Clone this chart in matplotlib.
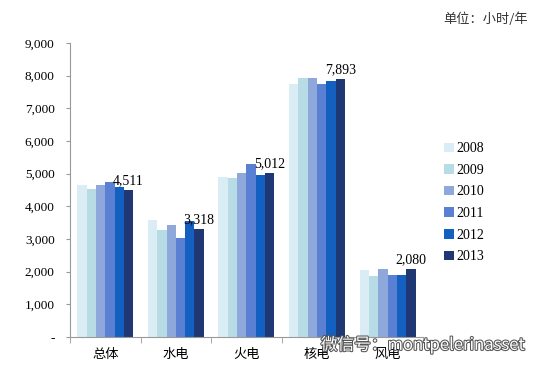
import numpy as np
import matplotlib
matplotlib.use('Agg')
import matplotlib.pyplot as plt
import matplotlib.patheffects as pe
from matplotlib.ticker import FuncFormatter

categories = ['总体', '水电', '火电', '核电', '风电']
years = ['2008', '2009', '2010', '2011', '2012', '2013']
hours = {
    '2008': [4648, 3589, 4885, 7731, 2046],
    '2009': [4546, 3264, 4865, 7914, 1861],
    '2010': [4650, 3429, 5031, 7924, 2090],
    '2011': [4730, 3019, 5294, 7759, 1903],
    '2012': [4579, 3560, 4965, 7838, 1903],
    '2013': [4511, 3318, 5012, 7893, 2080],
}
colors = ['#DAEDF4', '#B8DCE6', '#8EA8DC', '#5A80D4', '#1360C0', '#1F3873']

serif = ['Liberation Serif', 'Noto Sans CJK SC']
cjk = ['Noto Sans CJK SC', 'DejaVu Sans']

fig = plt.figure(figsize=(5.58, 3.77), dpi=100)
ax = fig.add_axes([0.1254, 0.106, 0.6325, 0.78])

x = np.arange(len(categories))
w = 0.132
for i, y in enumerate(years):
    ax.bar(x + (i - 2.5) * w, hours[y], w, color=colors[i], label=y)

# value labels on the 2013 bars
for xi, v in zip(x, hours['2013']):
    ax.text(xi + 2.5 * w, v + 80, f'{v:,}', ha='center', va='bottom',
            fontsize=10, family=serif)

ax.set_ylim(0, 9000)
ax.set_xlim(-0.5, 4.5)
ax.set_yticks(np.arange(0, 9001, 1000))
ax.yaxis.set_major_formatter(FuncFormatter(lambda v, p: '-' if v == 0 else f'{int(v):,}'))
ax.set_xticks(x)
ax.set_xticklabels(categories, family=cjk, fontsize=9.5)
ax.set_xticks(np.arange(-0.5, 4.6, 1), minor=True)
ax.tick_params(axis='x', which='major', length=0, pad=8)
ax.tick_params(axis='x', which='minor', length=4, color='#999999')
ax.tick_params(axis='y', length=3, color='#999999', labelsize=9.5, pad=8)
for lab in ax.get_yticklabels():
    lab.set_family(serif)
for s in ['top', 'right']:
    ax.spines[s].set_visible(False)
for s in ['left', 'bottom']:
    ax.spines[s].set_color('#999999')

leg = ax.legend(loc='upper left', bbox_to_anchor=(1.025, 0.705), frameon=False,
                prop={'family': serif, 'size': 10}, handlelength=0.7,
                handleheight=0.7, handletextpad=0.2, labelspacing=0.62)

fig.text(0.794, 0.94, '单位：小时/年', family=cjk, fontsize=9.5, color='#333333')

# watermark
fig.text(0.575, 0.072, '微信号：montpelerinasset', family=cjk, fontsize=12,
         color='white', path_effects=[pe.withStroke(linewidth=1.5, foreground='#555555')])

fig.savefig('out.png', dpi=100)
